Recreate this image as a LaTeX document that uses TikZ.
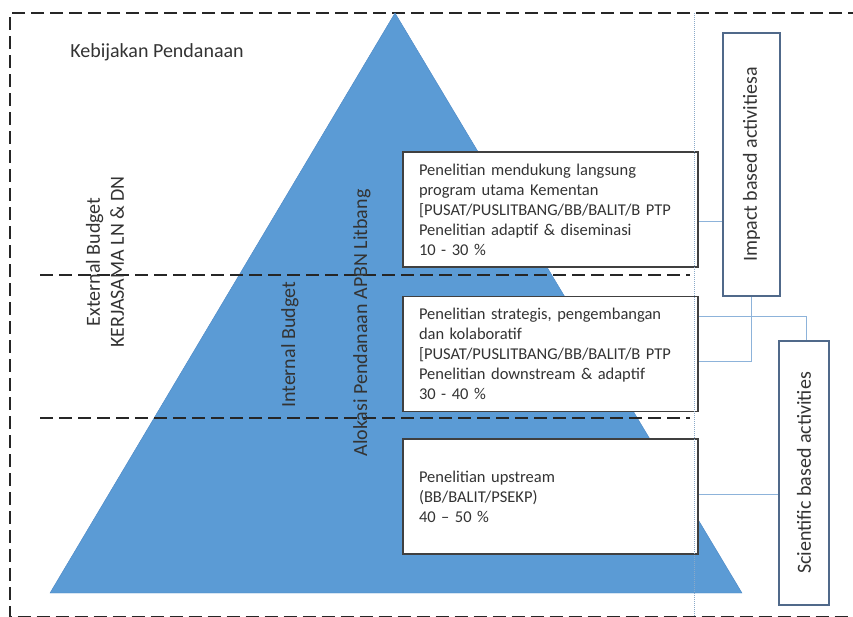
\documentclass[tikz,border=0pt]{standalone}
\usepackage{fontspec}
\setmainfont{Carlito}
\definecolor{pyrblue}{HTML}{5B9BD5}
\definecolor{pyredge}{HTML}{4A86C4}
\definecolor{boxgray}{HTML}{404040}
\definecolor{sidebox}{HTML}{50698A}
\definecolor{linkblue}{HTML}{8DB3DA}
\definecolor{txtgray}{HTML}{333333}
\begin{document}
\begin{tikzpicture}[x=1pt,y=-1pt,
	lvlbox/.style={draw=boxgray,line width=1.5pt,fill=white,text width=263pt,inner xsep=16pt,minimum height=115pt,align=left,text=txtgray,font=\fontsize{16.5}{20}\selectfont},
	actbox/.style={draw=sidebox,line width=2pt,fill=white},
	sidelabel/.style={rotate=90,text=txtgray,align=center,font=\fontsize{20}{24}\selectfont},
	cut/.style={dash pattern=on 13pt off 6pt,line width=2.2pt,draw=black!85},
	link/.style={draw=linkblue,line width=1pt}]
	\useasboundingbox (0,0) rectangle (853,616);
	% frame and pyramid
	\draw[cut] (880,13)--(10,13)--(10,617.5)--(880,617.5);
	\filldraw[fill=pyrblue,draw=pyredge] (395,13)--(742,593)--(50,593)--cycle;
	\draw[cut] (40,275)--(690,275);
	\draw[cut] (40,418)--(690,418);
	\node[text=txtgray,font=\fontsize{20}{24}\selectfont] (title) at (157,52) {Kebijakan Pendanaan};
	\node[sidelabel] (ext) at (105,262) {External Budget\\KERJASAMA LN \& DN};
	\node[sidelabel] (int) at (290,345) {Internal Budget};
	\node[sidelabel] (alok) at (362,323) {Alokasi Pendanaan APBN Litbang};
	% levels
	\node[lvlbox] (b1) at (550.5,209.5) {Penelitian mendukung langsung\\program utama Kementan\\{[}PUSAT/PUSLITBANG/BB/BALIT/B PTP\\Penelitian adaptif \& diseminasi\\10 - 30 \%};
	\node[lvlbox] (b2) at (550.5,354) {Penelitian strategis, pengembangan\\dan kolaboratif\\{[}PUSAT/PUSLITBANG/BB/BALIT/B PTP\\Penelitian downstream \& adaptif\\30 - 40 \%};
	\node[lvlbox] (b3) at (550.5,496.5) {Penelitian upstream\\(BB/BALIT/PSEKP)\\40 – 50 \%};
	\draw[densely dotted,draw=linkblue!80!gray,line width=1pt] (694,13)--(694,616);
	% activities
	\node[actbox,minimum width=57pt,minimum height=263pt,label={[sidelabel]center:Impact based activitiesa}] (impact) at (751.5,164.5) {};
	\node[actbox,minimum width=50pt,minimum height=264pt,label={[sidelabel]center:Scientific based activities}] (sci) at (804,473) {};
	\draw[link] ([yshift=-12pt]b1.east)--([yshift=-12pt]b1.east -| impact.west);
	\draw[link] ([yshift=-7pt]b2.east) -| (impact.south);
	\draw[link] ([yshift=38pt]b2.east) -| ([xshift=2pt]sci.north);
	\draw[link] ([yshift=2pt]b3.east)--([yshift=2pt]b3.east -| sci.west);
\end{tikzpicture}
\end{document}
